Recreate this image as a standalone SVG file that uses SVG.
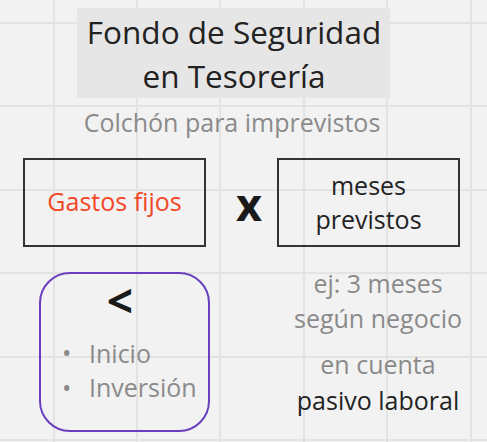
<svg xmlns="http://www.w3.org/2000/svg" width="487" height="442" viewBox="0 0 487 442">
<style>
.t{font-family:"Open Sans","Noto Sans",sans-serif;}
.g{fill:#8a8a8a;font-size:25px;}
.d{fill:#222;font-size:25px;}
.grid line{stroke:#e3e3e3;stroke-width:2;}
.box{fill:none;stroke:#333;stroke-width:2;}
</style>
<rect width="487" height="442" fill="#f2f2f2"/>
<g class="grid">
<line x1="54" y1="0" x2="54" y2="442"/><line x1="137" y1="0" x2="137" y2="442"/><line x1="220" y1="0" x2="220" y2="442"/><line x1="304" y1="0" x2="304" y2="442"/><line x1="387" y1="0" x2="387" y2="442"/><line x1="471" y1="0" x2="471" y2="442"/>
<line x1="0" y1="23" x2="487" y2="23"/><line x1="0" y1="106" x2="487" y2="106"/><line x1="0" y1="190" x2="487" y2="190"/><line x1="0" y1="273" x2="487" y2="273"/><line x1="0" y1="357" x2="487" y2="357"/><line x1="0" y1="440" x2="487" y2="440"/>
</g>
<g id="title">
<rect x="77" y="8" width="313" height="90" fill="#e6e6e6"/>
<text class="t" x="234" y="44" text-anchor="middle" fill="#222" font-size="31.5">Fondo de Seguridad</text>
<text class="t" x="234" y="88" text-anchor="middle" fill="#222" font-size="31.5">en Tesorería</text>
</g>
<g id="subtitle"><text class="t g" x="232" y="132" text-anchor="middle" font-size="27.4">Colchón para imprevistos</text></g>
<g id="gastos">
<rect class="box" x="24" y="159" width="181" height="87"/>
<text class="t" x="114.5" y="211" text-anchor="middle" fill="#f24726" font-size="25">Gastos fijos</text>
</g>
<g id="por"><text class="t" x="249" y="221" text-anchor="middle" fill="#1a1a1a" font-size="45" font-weight="700">x</text></g>
<g id="meses">
<rect class="box" x="278" y="159" width="181" height="87"/>
<text class="t d" x="368.5" y="195" text-anchor="middle">meses</text>
<text class="t d" x="368.5" y="229" text-anchor="middle">previstos</text>
</g>
<g id="menor">
<rect x="40" y="273" width="169" height="158" rx="30" fill="none" stroke="#6a3fbf" stroke-width="2"/>
<text class="t" x="120" y="318" text-anchor="middle" fill="#1a1a1a" font-size="46" font-weight="700">&lt;</text>
<text class="t g" x="62" y="362" font-size="16">•</text>
<text class="t g" x="89" y="363">Inicio</text>
<text class="t g" x="62" y="397" font-size="16">•</text>
<text class="t g" x="89" y="397">Inversión</text>
</g>
<g id="ejemplo">
<text class="t g" x="378" y="293" text-anchor="middle">ej: 3 meses</text>
<text class="t g" x="378" y="328" text-anchor="middle">según negocio</text>
</g>
<g id="pasivo">
<text class="t g" x="378" y="374" text-anchor="middle">en cuenta</text>
<text class="t d" x="378" y="410" text-anchor="middle">pasivo laboral</text>
</g>
<g id="connectors"/>
</svg>
